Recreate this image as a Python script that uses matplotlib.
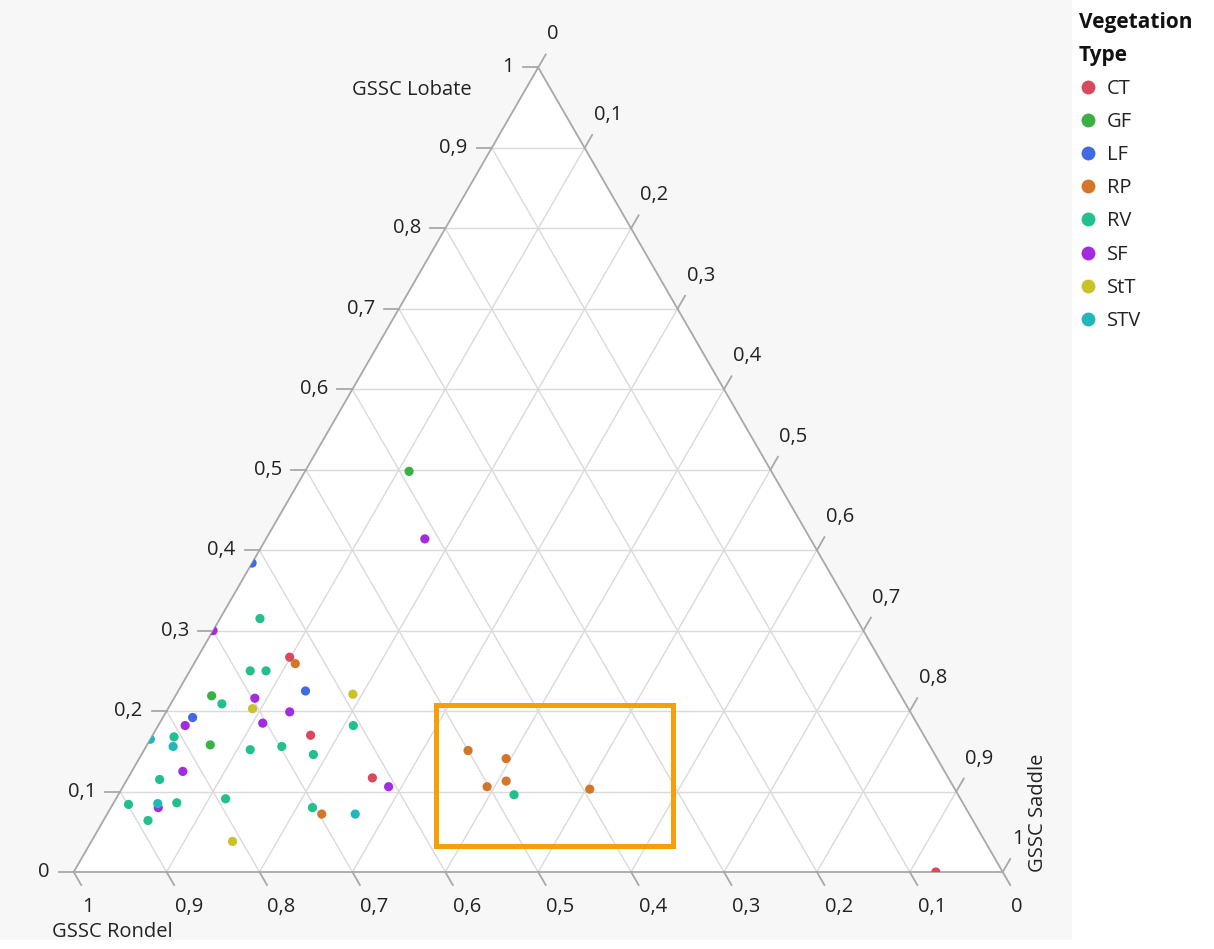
import numpy as np
import matplotlib
matplotlib.use("Agg")
import matplotlib.pyplot as plt
from matplotlib.patches import Polygon, Rectangle
from matplotlib.lines import Line2D

plt.rcParams['font.family'] = ['Open Sans', 'DejaVu Sans']

# ---------------- data ----------------
groups = ["CT", "GF", "LF", "RP", "RV", "SF", "StT", "STV"]
group_colors = ["#D9485C", "#3BB143", "#4169E1", "#D2772A", "#22C08F",
                "#A22DE0", "#C9C22A", "#22B8BA"]

point_group = (["CT"] * 4 + ["GF"] * 3 + ["LF"] * 3 + ["RP"] * 7 +
               ["RV"] * 16 + ["SF"] * 9 + ["StT"] * 3 + ["STV"] * 4)
rondel = [0.634, 0.660, 0.620, 0.072,
          0.742, 0.774, 0.390,
          0.616, 0.638, 0.776,
          0.632, 0.697, 0.500, 0.464, 0.478, 0.502, 0.393,
          0.642, 0.685, 0.668, 0.736, 0.608, 0.808, 0.734, 0.698,
          0.669, 0.850, 0.899, 0.846, 0.791, 0.888, 0.703, 0.478,
          0.415, 0.700, 0.697, 0.668, 0.789, 0.704, 0.820, 0.608, 0.869,
          0.589, 0.706, 0.810,
          0.835, 0.815, 0.867, 0.661]
lobate = [0.267, 0.170, 0.117, 0.000,
          0.219, 0.158, 0.498,
          0.384, 0.225, 0.192,
          0.259, 0.072, 0.151, 0.141, 0.113, 0.106, 0.103,
          0.315, 0.250, 0.250, 0.209, 0.182, 0.168, 0.152, 0.156,
          0.146, 0.115, 0.084, 0.086, 0.091, 0.064, 0.080, 0.096,
          0.414, 0.300, 0.216, 0.199, 0.182, 0.185, 0.125, 0.106, 0.080,
          0.221, 0.203, 0.038,
          0.165, 0.156, 0.085, 0.072]
saddle = [0.099, 0.170, 0.263, 0.928,
          0.039, 0.068, 0.112,
          0.000, 0.137, 0.032,
          0.109, 0.231, 0.349, 0.395, 0.409, 0.392, 0.504,
          0.043, 0.065, 0.082, 0.055, 0.210, 0.024, 0.114, 0.146,
          0.185, 0.035, 0.017, 0.068, 0.118, 0.048, 0.217, 0.426,
          0.171, 0.000, 0.087, 0.133, 0.029, 0.111, 0.055, 0.286, 0.051,
          0.190, 0.091, 0.152,
          0.000, 0.029, 0.048, 0.267]

tick_values = [0.0, 0.1, 0.2, 0.3, 0.4, 0.5, 0.6, 0.7, 0.8, 0.9, 1.0]
tick_labels = ["0", "0,1", "0,2", "0,3", "0,4", "0,5", "0,6", "0,7", "0,8", "0,9", "1"]

# ---------------- layout ----------------
W, H = 1214, 949
S = 929.0             # side length in pixels
X0, Y0 = 73.7, 872.0  # pixel position of bottom-left vertex
h = np.sqrt(3) / 2

fig = plt.figure(figsize=(W / 100, H / 100), dpi=100)
fig.patch.set_facecolor("white")
ax = fig.add_axes([0, 0, 1, 1])
ax.set_xlim(-X0 / S, (W - X0) / S)
ax.set_ylim(-(H - Y0) / S, Y0 / S)
ax.axis("off")


def P(xp, yp):
    """pixel -> data coordinates (for decorations only)"""
    return (xp - X0) / S, (Y0 - yp) / S


def tern(r, l, s):
    r, l, s = np.asarray(r), np.asarray(l), np.asarray(s)
    return s + l / 2, l * h


TXT = "#222222"
EDGE = "#a8a8a8"
GRID = "#dadada"
FS = 14.5

# grey panel background
ax.add_patch(Rectangle((0, 9 / H), 1072 / W, 940 / H, transform=ax.transAxes,
                       facecolor="#f7f7f7", edgecolor="none", zorder=0))

tri = Polygon([(0, 0), (1, 0), (0.5, h)], closed=True, facecolor="white",
              edgecolor="none", zorder=1)
ax.add_patch(tri)

# grid lines
for v in tick_values[1:-1]:
    ax.plot([v / 2, 1 - v / 2], [v * h, v * h], color=GRID, lw=1.0, zorder=2)
    ax.plot([v, v + (1 - v) / 2], [0, (1 - v) * h], color=GRID, lw=1.0, zorder=2)
    ax.plot([1 - v, (1 - v) / 2], [0, (1 - v) * h], color=GRID, lw=1.0, zorder=2)

# triangle edges
ax.add_patch(Polygon([(0, 0), (1, 0), (0.5, h)], closed=True, facecolor="none",
                     edgecolor=EDGE, lw=1.3, zorder=2.5))

t = 15 / S
for v, lab in zip(tick_values, tick_labels):
    # left axis: lobate
    x, y = v / 2, v * h
    ax.plot([x - t, x], [y, y], color=EDGE, lw=1.3, zorder=2.5)
    ax.text(x - 24 / S, y, lab, ha="right", va="center", fontsize=FS, color=TXT)
    # right axis: saddle
    x, y = (1 + v) / 2, (1 - v) * h
    ax.plot([x, x + t * 0.5], [y, y + t * h], color=EDGE, lw=1.3, zorder=2.5)
    ax.text(x + 9 / S, y + 33 / S, lab, ha="left", va="center", fontsize=FS, color=TXT)
    # bottom axis: rondel
    x, y = 1 - v, 0
    ax.plot([x, x + t * 0.5], [y, y - t * h], color=EDGE, lw=1.3, zorder=2.5)
    ax.text(x + 8 / S, -35 / S, lab, ha="left", va="center", fontsize=FS, color=TXT)

# axis titles
ax.text(*P(472, 90), "GSSC Lobate", ha="right", va="center", fontsize=FS, color=TXT)
ax.text(*P(52, 932), "GSSC Rondel", ha="left", va="center", fontsize=FS, color=TXT)
ax.text(*P(1038, 872), "GSSC Saddle", ha="center", va="bottom", rotation=90,
        fontsize=FS, color=TXT)

# points
pg = np.array(point_group)
rr, ll, ss = np.array(rondel), np.array(lobate), np.array(saddle)
for g, c in zip(groups, group_colors):
    m = pg == g
    xs, ys = tern(rr[m], ll[m], ss[m])
    sc = ax.scatter(xs, ys, s=44, color=c, edgecolors="none", zorder=3)
    sc.set_clip_path(tri)

# highlight box
bx0, by0 = P(436, 846)
bx1, by1 = P(672.5, 705)
ax.add_patch(Rectangle((bx0, by0), bx1 - bx0, by1 - by0, fill=False,
                       edgecolor="#F5A00A", lw=3.6, zorder=4))

# legend
handles = [Line2D([], [], marker="o", ls="", color=c, markeredgewidth=0, markersize=10)
           for c in group_colors]
leg = ax.legend(handles, groups, title="Vegetation\nType", loc="upper left",
                bbox_to_anchor=(1075 / W, 1 - 8 / H), frameon=False, fontsize=FS,
                title_fontproperties={"weight": "bold", "size": 15},
                alignment="left", handletextpad=0.5, labelspacing=0.65,
                handlelength=0.9, borderaxespad=0, borderpad=0.2)
for txt in leg.get_texts():
    txt.set_color(TXT)
leg.get_title().set_color("#111111")
leg.get_title().set_linespacing(1.75)

fig.savefig("out.png", dpi=100, facecolor="white")
